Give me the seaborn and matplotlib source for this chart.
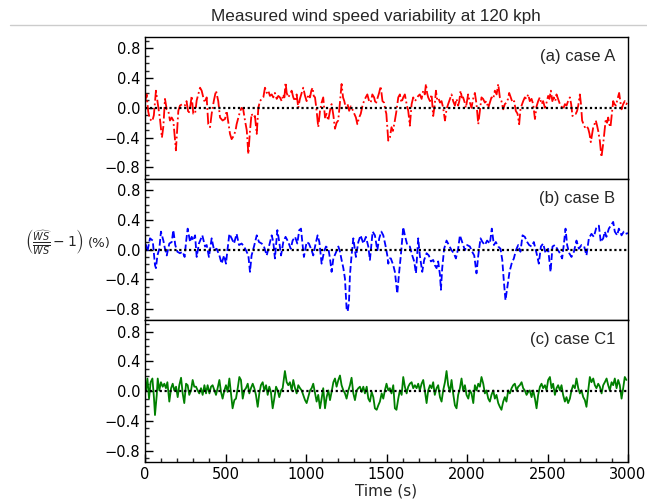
import matplotlib
matplotlib.use("Agg")
import matplotlib.pyplot as plt
from matplotlib.lines import Line2D
from matplotlib.ticker import MultipleLocator
import seaborn as sns
import pandas as pd

# ---------------- data (time [s], normalised wind speed variability [%]) ----------------
case_a = [
    (0, 0.07), (10, 0.18), (20, -0.05), (30, -0.15), (45, -0.18), (55, -0.10), (68, 0.23), (83, 0.00),
    (93, -0.15), (105, -0.40), (114, -0.25), (124, 0.12), (135, -0.02), (145, -0.04), (155, -0.17),
    (166, -0.13), (176, -0.17), (192, -0.57), (207, -0.04), (217, 0.03), (232, 0.05), (248, 0.03),
    (258, 0.09), (270, -0.08), (280, 0.00), (290, 0.16), (300, -0.08), (311, -0.08), (321, 0.10),
    (331, 0.18), (342, 0.27), (352, 0.23), (362, 0.14), (372, 0.07), (383, 0.14), (393, -0.22),
    (404, -0.26), (414, -0.08), (428, 0.10), (441, 0.23), (455, 0.09), (466, -0.13), (482, -0.17),
    (497, -0.15), (507, -0.04), (518, -0.20), (528, -0.35), (538, -0.42), (550, -0.38), (562, -0.31),
    (569, -0.22), (580, -0.13), (590, -0.05), (600, 0.00), (610, -0.02), (621, -0.17), (632, -0.30),
    (642, -0.62), (652, -0.31), (662, -0.08), (673, -0.13), (683, -0.11), (694, -0.35), (704, 0.00),
    (714, 0.09), (725, 0.12), (735, 0.14), (745, 0.27), (756, 0.20), (766, 0.23), (776, 0.16),
    (787, 0.18), (797, 0.14), (807, 0.20), (818, 0.12), (828, 0.16), (838, 0.14), (849, 0.09),
    (859, 0.18), (866, 0.14), (873, 0.34), (880, 0.20), (890, 0.14), (900, 0.18), (911, 0.23),
    (921, 0.14), (932, 0.09), (942, 0.18), (952, 0.00), (962, 0.12), (973, 0.20), (983, 0.27),
    (994, 0.16), (1004, 0.09), (1015, 0.18), (1025, 0.14), (1033, 0.23), (1041, 0.27), (1048, 0.16),
    (1056, 0.14), (1066, -0.04), (1076, -0.26), (1087, -0.04), (1097, 0.07), (1107, 0.14),
    (1118, -0.13), (1128, -0.08), (1138, -0.17), (1149, -0.04), (1159, 0.05), (1170, -0.10),
    (1180, -0.28), (1190, -0.20), (1200, -0.17), (1210, 0.05), (1221, 0.32), (1230, 0.14),
    (1238, 0.09), (1247, 0.00), (1258, 0.05), (1268, -0.04), (1278, 0.02), (1288, -0.02),
    (1300, -0.08), (1310, -0.13), (1319, -0.22), (1330, -0.13), (1340, -0.08), (1350, 0.02),
    (1360, 0.09), (1371, 0.14), (1381, 0.18), (1392, 0.09), (1402, 0.07), (1412, 0.18), (1423, 0.14),
    (1433, 0.05), (1443, 0.12), (1454, 0.20), (1464, 0.29), (1475, 0.09), (1485, 0.07), (1492, -0.02),
    (1499, -0.08), (1511, -0.44), (1521, -0.40), (1531, -0.26), (1540, -0.31), (1552, -0.17),
    (1562, -0.04), (1573, 0.14), (1583, 0.18), (1593, 0.07), (1604, 0.14), (1614, 0.18), (1625, 0.05),
    (1635, -0.04), (1645, -0.24), (1656, 0.05), (1666, 0.14), (1676, 0.09), (1687, 0.12), (1697, 0.16),
    (1707, 0.18), (1718, 0.12), (1728, 0.23), (1738, 0.18), (1745, 0.32), (1752, 0.20), (1759, 0.14),
    (1770, 0.09), (1780, 0.18), (1790, -0.11), (1800, 0.05), (1807, 0.23), (1814, 0.12), (1821, 0.14),
    (1832, 0.07), (1842, 0.09), (1852, 0.00), (1863, -0.17), (1873, -0.02), (1883, 0.05), (1894, 0.12),
    (1904, 0.18), (1914, 0.09), (1925, 0.03), (1935, 0.12), (1945, 0.03), (1952, 0.09), (1960, 0.23),
    (1968, 0.14), (1976, 0.14), (1986, 0.07), (1993, 0.00), (2000, 0.09), (2007, 0.18), (2018, 0.07),
    (2028, 0.00), (2038, 0.12), (2049, 0.20), (2059, 0.05), (2070, -0.22), (2080, -0.04), (2090, 0.14),
    (2100, 0.12), (2111, 0.07), (2121, 0.09), (2132, 0.00), (2142, 0.07), (2152, 0.14), (2163, 0.12),
    (2173, 0.23), (2184, 0.18), (2194, 0.32), (2204, 0.14), (2214, 0.09), (2225, -0.02), (2235, 0.05),
    (2245, 0.07), (2255, 0.12), (2262, 0.20), (2272, 0.14), (2283, 0.07), (2293, 0.09), (2303, -0.04),
    (2314, -0.08), (2324, -0.22), (2332, -0.02), (2339, 0.03), (2349, 0.09), (2359, 0.14), (2370, 0.12),
    (2380, 0.18), (2390, 0.09), (2401, 0.12), (2411, 0.05), (2422, -0.15), (2432, 0.02), (2442, 0.09),
    (2452, 0.14), (2463, 0.05), (2473, 0.09), (2484, 0.00), (2494, 0.07), (2504, 0.16), (2512, 0.12),
    (2521, 0.23), (2530, 0.09), (2539, 0.14), (2548, 0.09), (2556, 0.18), (2566, 0.12), (2577, 0.05),
    (2587, 0.02), (2597, -0.02), (2608, 0.05), (2618, 0.03), (2628, 0.09), (2639, 0.14), (2647, 0.05),
    (2655, -0.11), (2666, -0.08), (2676, -0.08), (2684, -0.04), (2691, 0.03), (2701, 0.18), (2708, 0.05),
    (2715, -0.17), (2724, -0.22), (2732, -0.26), (2742, -0.24), (2753, -0.28), (2761, -0.35),
    (2769, -0.46), (2777, -0.35), (2784, -0.26), (2792, -0.22), (2800, -0.17), (2808, -0.24),
    (2815, -0.31), (2825, -0.44), (2835, -0.66), (2846, -0.48), (2854, -0.31), (2862, -0.15),
    (2870, -0.20), (2877, -0.13), (2884, -0.22), (2891, -0.26), (2900, -0.08), (2908, 0.09),
    (2916, 0.05), (2925, 0.03), (2935, 0.12), (2945, 0.20), (2952, 0.09), (2960, -0.02), (2970, 0.05),
    (2980, 0.09), (2990, 0.05), (3000, 0.09),
]

case_b = [
    (0, 0.08), (6, 0.06), (15, -0.03), (31, 0.15), (48, 0.12), (62, -0.21), (68, -0.25), (77, -0.08),
    (89, 0.01), (99, 0.24), (114, 0.12), (124, 0.01), (135, -0.08), (151, 0.08), (166, 0.10),
    (176, 0.26), (188, 0.06), (201, -0.03), (217, -0.05), (234, -0.03), (246, -0.10), (255, 0.10),
    (265, 0.28), (280, 0.10), (290, 0.17), (300, 0.12), (311, 0.19), (321, -0.10), (335, 0.08),
    (356, 0.19), (373, 0.04), (383, 0.06), (397, -0.10), (414, 0.15), (429, -0.01), (445, 0.01),
    (462, -0.08), (476, -0.19), (491, -0.08), (503, -0.19), (511, -0.03), (524, 0.21), (538, 0.15),
    (553, 0.08), (569, 0.21), (584, 0.06), (600, 0.08), (615, 0.04), (627, -0.01), (642, -0.08),
    (652, -0.30), (662, -0.08), (677, 0.04), (694, 0.19), (708, 0.10), (725, 0.08), (739, 0.04),
    (756, -0.08), (772, 0.06), (787, 0.19), (797, 0.10), (807, -0.12), (822, 0.26), (834, 0.10),
    (845, -0.08), (859, 0.10), (873, 0.17), (890, 0.10), (905, 0.01), (917, 0.12), (932, 0.17),
    (946, 0.08), (958, 0.26), (969, 0.28), (977, 0.10), (987, -0.10), (1004, 0.10), (1018, 0.08),
    (1035, -0.01), (1045, -0.08), (1060, 0.08), (1072, 0.19), (1083, 0.10), (1097, -0.19),
    (1112, -0.03), (1124, 0.04), (1139, 0.01), (1149, -0.12), (1159, -0.30), (1170, -0.12),
    (1184, -0.05), (1201, 0.04), (1211, -0.03), (1221, -0.14), (1232, -0.25), (1242, -0.39),
    (1252, -0.79), (1259, -0.83), (1267, -0.70), (1273, -0.34), (1283, -0.08), (1294, 0.15),
    (1310, -0.10), (1325, 0.10), (1339, 0.19), (1356, 0.08), (1372, 0.17), (1387, 0.04), (1397, -0.14),
    (1414, 0.24), (1428, 0.19), (1443, -0.01), (1455, 0.15), (1468, 0.24), (1480, 0.19), (1495, 0.04),
    (1505, -0.08), (1511, -0.19), (1520, -0.12), (1527, -0.12), (1542, -0.21), (1552, -0.30),
    (1567, -0.59), (1577, -0.34), (1589, -0.08), (1604, 0.30), (1614, 0.19), (1629, 0.06),
    (1645, 0.04), (1660, -0.08), (1672, -0.16), (1683, -0.32), (1697, 0.15), (1707, -0.08),
    (1722, -0.30), (1734, -0.14), (1749, -0.05), (1763, -0.08), (1776, -0.16), (1790, -0.14),
    (1800, -0.21), (1811, -0.25), (1821, -0.16), (1832, -0.34), (1838, -0.54), (1846, -0.25),
    (1858, 0.01), (1873, 0.12), (1887, 0.06), (1904, -0.01), (1918, -0.05), (1931, -0.12),
    (1945, 0.01), (1956, 0.19), (1970, 0.10), (1987, -0.01), (2001, 0.06), (2018, 0.04),
    (2032, -0.03), (2045, -0.08), (2059, -0.32), (2070, -0.08), (2084, 0.15), (2096, 0.10),
    (2111, 0.06), (2125, 0.12), (2142, 0.08), (2154, 0.28), (2167, 0.06), (2179, 0.10), (2194, 0.04),
    (2208, 0.01), (2219, -0.14), (2229, -0.43), (2239, -0.68), (2252, -0.48), (2264, -0.30),
    (2277, -0.19), (2291, -0.12), (2304, -0.01), (2318, 0.06), (2332, -0.03), (2345, 0.19),
    (2359, 0.17), (2374, 0.10), (2386, 0.06), (2401, 0.04), (2415, 0.10), (2432, -0.05),
    (2446, -0.19), (2459, 0.04), (2473, 0.08), (2488, -0.05), (2504, 0.01), (2519, -0.30),
    (2531, 0.04), (2546, 0.06), (2560, 0.01), (2577, -0.05), (2591, -0.12), (2602, 0.08),
    (2612, 0.28), (2622, 0.06), (2635, -0.05), (2649, -0.10), (2664, -0.03), (2680, 0.12),
    (2695, 0.01), (2711, 0.06), (2728, 0.04), (2742, -0.08), (2757, 0.15), (2773, 0.21), (2788, 0.17),
    (2804, 0.30), (2819, 0.32), (2831, 0.10), (2846, 0.15), (2856, 0.24), (2866, 0.17), (2881, 0.28),
    (2893, 0.32), (2908, 0.37), (2918, 0.24), (2933, 0.19), (2943, 0.28), (2960, 0.19), (2974, 0.24),
    (2985, 0.21), (3000, 0.22),
]

case_c1 = [
    (6, 0.01), (15, 0.17), (25, -0.10), (35, 0.12), (46, 0.17), (56, -0.10), (62, -0.32), (73, -0.05),
    (79, 0.17), (89, 0.01), (99, 0.12), (110, 0.06), (120, 0.10), (130, 0.04), (139, 0.12),
    (151, -0.14), (162, 0.04), (172, 0.10), (182, 0.01), (193, 0.06), (203, -0.08), (213, 0.08),
    (224, 0.18), (234, -0.03), (244, -0.16), (255, 0.10), (265, 0.08), (275, -0.05), (286, 0.01),
    (296, 0.15), (306, 0.06), (317, 0.06), (327, 0.01), (337, -0.03), (348, 0.04), (358, -0.05),
    (369, 0.08), (379, -0.03), (389, 0.08), (400, -0.03), (410, 0.06), (420, 0.08), (431, 0.01),
    (441, -0.05), (451, 0.04), (462, 0.15), (472, -0.01), (482, -0.10), (493, 0.01), (503, 0.08),
    (513, -0.01), (524, 0.17), (534, -0.03), (544, -0.23), (555, -0.12), (565, -0.10), (576, 0.04),
    (586, 0.19), (596, 0.15), (607, -0.10), (617, 0.01), (627, 0.04), (638, 0.10), (648, -0.03),
    (658, 0.04), (669, 0.10), (679, 0.04), (689, -0.05), (700, -0.21), (710, -0.03), (720, 0.08),
    (731, 0.12), (741, 0.01), (752, 0.08), (762, -0.05), (772, 0.06), (782, -0.01), (793, -0.23),
    (803, -0.10), (814, 0.06), (824, 0.01), (834, -0.08), (845, 0.01), (855, 0.04), (869, 0.27),
    (880, 0.12), (890, 0.08), (900, 0.12), (911, 0.01), (921, 0.15), (932, 0.04), (942, -0.03),
    (952, 0.08), (963, 0.04), (973, 0.01), (983, -0.05), (994, -0.12), (1004, -0.16), (1014, -0.08),
    (1025, 0.01), (1035, 0.04), (1045, 0.10), (1056, -0.03), (1066, -0.14), (1076, -0.05),
    (1087, -0.23), (1097, -0.10), (1107, 0.04), (1118, -0.23), (1128, -0.08), (1139, 0.01),
    (1149, -0.12), (1159, -0.01), (1170, 0.12), (1180, 0.17), (1190, 0.06), (1201, 0.15), (1211, 0.21),
    (1221, 0.08), (1232, 0.01), (1242, -0.03), (1252, -0.10), (1263, 0.01), (1273, 0.08), (1283, 0.18),
    (1294, -0.03), (1304, -0.12), (1315, 0.01), (1325, 0.04), (1335, 0.06), (1346, -0.01),
    (1356, 0.06), (1366, -0.03), (1377, 0.06), (1387, -0.10), (1397, -0.14), (1408, -0.01),
    (1418, -0.08), (1428, -0.23), (1439, -0.25), (1449, -0.19), (1459, -0.14), (1470, -0.03),
    (1480, -0.10), (1490, 0.01), (1500, 0.10), (1511, 0.01), (1521, 0.04), (1531, -0.03), (1542, 0.08),
    (1552, -0.23), (1562, -0.25), (1573, -0.10), (1583, 0.01), (1594, -0.05), (1604, 0.19),
    (1614, 0.06), (1625, -0.03), (1635, 0.06), (1645, 0.10), (1656, 0.12), (1666, 0.04), (1676, 0.08),
    (1687, 0.04), (1697, 0.10), (1707, 0.01), (1718, 0.10), (1728, 0.15), (1738, 0.01), (1749, -0.16),
    (1759, 0.01), (1770, 0.08), (1780, 0.04), (1790, 0.12), (1800, -0.05), (1811, 0.04), (1821, 0.08),
    (1832, -0.08), (1842, -0.14), (1852, 0.01), (1863, 0.12), (1873, 0.27), (1883, 0.08),
    (1894, -0.01), (1904, 0.15), (1914, -0.03), (1925, -0.19), (1935, -0.23), (1945, -0.05),
    (1956, 0.04), (1966, 0.17), (1976, 0.01), (1987, 0.08), (1997, -0.05), (2008, -0.10), (2018, 0.01),
    (2028, -0.03), (2039, -0.16), (2049, 0.08), (2059, 0.01), (2070, 0.10), (2080, 0.06), (2090, 0.19),
    (2101, 0.10), (2111, -0.03), (2121, 0.01), (2132, -0.10), (2142, -0.14), (2152, -0.05),
    (2163, 0.01), (2173, -0.10), (2183, -0.05), (2194, -0.16), (2204, -0.21), (2214, -0.25),
    (2225, -0.14), (2235, -0.08), (2245, -0.14), (2256, 0.01), (2266, -0.03), (2277, 0.04),
    (2287, 0.08), (2297, 0.10), (2308, 0.01), (2318, 0.06), (2328, 0.08), (2339, 0.12), (2349, 0.04),
    (2359, 0.01), (2370, -0.05), (2380, -0.01), (2390, 0.01), (2401, -0.08), (2411, 0.01),
    (2422, -0.10), (2432, -0.23), (2442, -0.05), (2453, 0.06), (2463, 0.10), (2473, 0.04),
    (2484, 0.08), (2494, 0.01), (2504, 0.15), (2515, 0.19), (2525, 0.04), (2535, 0.10), (2546, -0.05),
    (2556, 0.04), (2566, 0.08), (2577, 0.01), (2587, 0.08), (2597, -0.05), (2608, -0.14),
    (2618, -0.08), (2628, -0.16), (2639, -0.10), (2649, 0.01), (2659, 0.08), (2670, 0.04),
    (2680, 0.17), (2691, 0.04), (2701, -0.03), (2711, 0.01), (2722, -0.08), (2732, -0.12),
    (2742, -0.21), (2753, 0.01), (2763, 0.19), (2773, 0.12), (2784, 0.17), (2794, 0.08), (2804, 0.04),
    (2815, 0.10), (2825, 0.06), (2836, -0.03), (2846, 0.08), (2856, 0.12), (2867, 0.17), (2877, 0.08),
    (2887, 0.01), (2898, 0.12), (2908, 0.08), (2918, 0.17), (2929, 0.04), (2939, 0.15), (2949, 0.08),
    (2960, -0.10), (2970, 0.04), (2980, 0.19), (2990, 0.15),
]

panel_labels = ["(a) case A", "(b) case B", "(c) case C1"]
line_colors = ["red", "blue", "green"]
line_styles = ["-.", "--", "-"]
y_ticks = [-0.8, -0.4, 0.0, 0.4, 0.8]
x_ticks = [0, 500, 1000, 1500, 2000, 2500, 3000]
title_text = "Measured wind speed variability at 120 kph"
x_label = "Time (s)"
y_label_math = r"$\left(\frac{\widehat{WS}}{\overline{WS}}-1\right)$"
y_label_unit = "(%)"

# ---------------- plotting ----------------
sns.set_style("ticks")
plt.rcParams["font.family"] = ["DejaVu Sans"]
plt.rcParams["axes.unicode_minus"] = True

fig, axes = plt.subplots(3, 1, figsize=(6.47, 5.0), dpi=100, sharex=True)
fig.subplots_adjust(left=145 / 647, right=628 / 647, top=1 - 37 / 500, bottom=1 - 462 / 500, hspace=0)

series = [case_a, case_b, case_c1]
for i, (ax, data, lab, col, ls) in enumerate(zip(axes, series, panel_labels, line_colors, line_styles)):
    df = pd.DataFrame(data, columns=["time", "ws"])
    sns.lineplot(data=df, x="time", y="ws", ax=ax, color=col, linestyle=ls,
                 linewidth=1.3, estimator=None, sort=False, zorder=2)
    ax.axhline(0.0, color="black", linestyle=(0, (1, 1.2)), linewidth=1.6, zorder=3)
    ax.set_xlim(0, 3000)
    ax.set_ylim(-0.95, 0.95)
    ax.set_yticks(y_ticks)
    ax.set_yticklabels([f"{v:.1f}".replace("-", "\u2212") for v in y_ticks])
    ax.yaxis.set_minor_locator(MultipleLocator(0.1))
    ax.xaxis.set_minor_locator(MultipleLocator(100))
    ax.tick_params(axis="both", which="major", direction="in", length=6, width=1,
                   labelsize=10.5, colors="black", top=False, right=False)
    ax.tick_params(axis="both", which="minor", direction="in", length=3, width=1,
                   top=False, right=False)
    if i < 2:
        ax.tick_params(axis="x", which="both", bottom=False, labelbottom=False)
    ax.set_xlabel("")
    ax.set_ylabel("")
    for sp in ax.spines.values():
        sp.set_visible(True)
        sp.set_color("black")
        sp.set_linewidth(1.0)
    ax.text(0.973, 0.83, lab, transform=ax.transAxes, ha="right", va="baseline",
            fontsize=12, family=["Liberation Sans", "DejaVu Sans"])

axes[-1].set_xticks(x_ticks)
axes[-1].set_xticklabels([str(v) for v in x_ticks])
axes[-1].set_xlabel(x_label, fontsize=11, labelpad=1)

fig.text(25 / 647, 1 - 242 / 500, y_label_math, ha="left", va="center", fontsize=10)
fig.text(88 / 647, 1 - 243 / 500, y_label_unit, ha="left", va="center", fontsize=9.5)
fig.text(376 / 647, 1 - 17 / 500, title_text, ha="center", va="center", fontsize=12.3,
         family=["Liberation Sans", "DejaVu Sans"])
fig.add_artist(Line2D([10 / 647, 1.0], [1 - 25 / 500, 1 - 25 / 500], transform=fig.transFigure,
                      color="#cccccc", linewidth=1.0))

fig.savefig("out.png", dpi=100)
